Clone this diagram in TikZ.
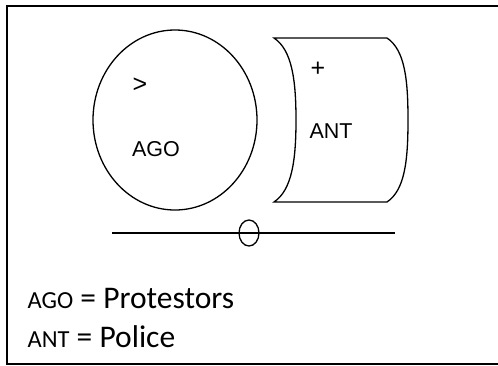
\documentclass[tikz,border=0pt]{standalone}
\usepackage{fontspec}
\setmainfont{Liberation Sans}
\newfontfamily\legendfont{Carlito}
\usetikzlibrary{shapes.geometric}

\begin{document}
\begin{tikzpicture}[x=1pt, y=-1pt, line width=1.3pt,
    lbl/.style={font=\fontsize{21.5}{25}\selectfont},
    sym/.style={font=\fontsize{25}{28}\selectfont},
    key/.style={anchor=base west, inner sep=0pt, font=\legendfont\fontsize{31.5}{36}\selectfont}]
    \useasboundingbox (0,0) rectangle (498,365);

    % frame (open on the right)
    \draw[line width=2pt] (498,6) -- (6.5,6) -- (6.5,363.5) -- (498,363.5);

    % protestors
    \node[draw, ellipse, minimum width=164pt, minimum height=180pt, inner sep=0pt] (ago) at (175,120) {};
    \node[sym] (gt) at (140,85) {>};
    \node[lbl] (agolbl) at (156,149) {AGO};

    % police
    \draw (274,38) -- (387,38)
        .. controls (405,50) and (408,80) .. (408,120)
        .. controls (408,160) and (405,190) .. (387,202)
        -- (274,202)
        .. controls (292,190) and (296,160) .. (296,120)
        .. controls (296,80) and (292,50) .. (274,38) -- cycle;
    \node[sym] (plus) at (318,69) {+};
    \node[lbl] (antlbl) at (331,131) {ANT};

    % line with marker
    \coordinate (lineL) at (112,233);
    \coordinate (lineR) at (395,233);
    \draw (lineL) -- (lineR);
    \node[draw, ellipse, minimum width=20pt, minimum height=26pt, inner sep=0pt] (mark) at (249,233) {};

    % legend
    \node[key] (k1) at (27,308) {{\fontsize{24.5}{28}\selectfont AGO} = Protestors};
    \node[key] (k2) at (27,347) {{\fontsize{24.5}{28}\selectfont ANT} = Police};
\end{tikzpicture}
\end{document}
